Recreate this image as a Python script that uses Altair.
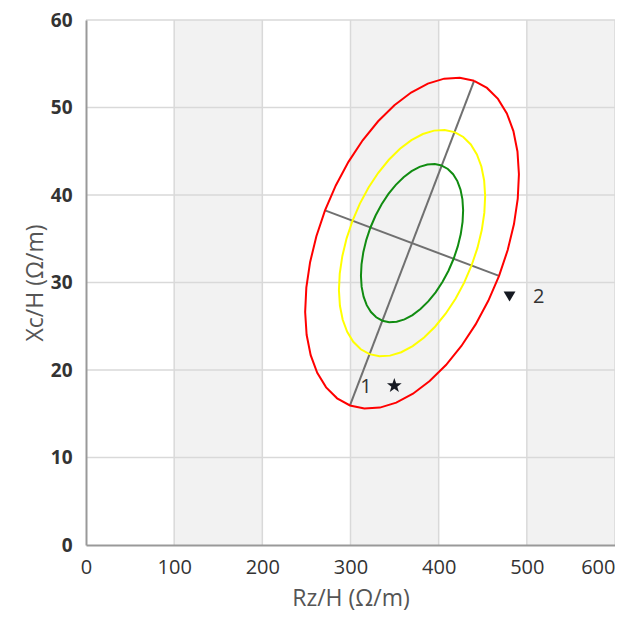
import altair as alt
import numpy as np
import pandas as pd

# ---- axis / grid values ----
x_ticks = [0, 100, 200, 300, 400, 500, 600]
y_ticks = [0, 10, 20, 30, 40, 50, 60]
band_start = [100, 300, 500]
band_end = [200, 400, 600]

# ---- ellipse parameters (data units) ----
ellipse_center = [369.8, 34.5]
major_half = [70.4, 18.55]
minor_half = [98.7, -3.74]
ellipse_names = ["95%", "75%", "50%"]
ellipse_scale = [1.0, 0.684, 0.478]
ellipse_colors = ["#ff0000", "#ffff00", "#118c11"]

# ---- markers and labels ----
marker_x = [349.7, 480.4]
marker_y = [18.2, 28.4]
marker_names = ["star", "triangle"]
label_text = ["1", "2"]
label_x = [317.5, 513.5]
label_y = [18.1, 28.3]

STAR = ("M0,-1 L0.235,-0.324 L0.951,-0.309 L0.380,0.124 L0.588,0.809 "
        "L0,0.4 L-0.588,0.809 L-0.380,0.124 L-0.951,-0.309 L-0.235,-0.324 Z")

FONT = "Open Sans"

# build ellipse outlines
n_seg = 40
rows = []
for name, s in zip(ellipse_names, ellipse_scale):
    for i in range(n_seg + 1):
        t = 2 * np.pi * i / n_seg
        px = ellipse_center[0] + s * (major_half[0] * np.cos(t) + minor_half[0] * np.sin(t))
        py = ellipse_center[1] + s * (major_half[1] * np.cos(t) + minor_half[1] * np.sin(t))
        rows.append({"level": name, "order": i, "x": px, "y": py})
ell_df = pd.DataFrame(rows)

axes_df = pd.DataFrame({
    "x": [ellipse_center[0] - major_half[0], ellipse_center[0] - minor_half[0]],
    "y": [ellipse_center[1] - major_half[1], ellipse_center[1] - minor_half[1]],
    "x2": [ellipse_center[0] + major_half[0], ellipse_center[0] + minor_half[0]],
    "y2": [ellipse_center[1] + major_half[1], ellipse_center[1] + minor_half[1]],
})

xs = alt.Scale(domain=[0, 600], nice=False, zero=False)
ys = alt.Scale(domain=[0, 60], nice=False, zero=False)

x_axis = alt.Axis(
    title="Rz/H (Ω/m)", values=x_ticks, grid=False, ticks=False,
    labelFont=FONT, labelFontSize=20, labelColor="#333333", labelPadding=12,
    labelAlign={"condition": {"test": "datum.value == 600", "value": "right"}, "value": "center"},
    titleFont=FONT, titleFontSize=23, titleFontWeight="normal", titleColor="#555555",
    titlePadding=10, domainColor="#999999", domainWidth=2, zindex=1,
)
y_axis = alt.Axis(
    title="Xc/H (Ω/m)", values=y_ticks, grid=False, ticks=False,
    labelFont=FONT, labelFontSize=19, labelColor="#333333", labelPadding=14,
    labelFontWeight="bold",
    titleFont=FONT, titleFontSize=23, titleFontWeight="normal", titleColor="#555555",
    titlePadding=3, domainColor="#999999", domainWidth=2, zindex=1,
)

bands = alt.Chart(pd.DataFrame({"a": band_start, "b": band_end})).mark_rect(
    color="#f2f2f2"
).encode(
    x=alt.X("a:Q", scale=xs, axis=x_axis),
    x2="b:Q",
    y=alt.value(0),
    y2=alt.value(525),
)

vgrid = alt.Chart(pd.DataFrame({"v": x_ticks[1:]})).mark_rule(
    color="#d9d9d9", strokeWidth=1.5
).encode(x=alt.X("v:Q", scale=xs))

hgrid = alt.Chart(pd.DataFrame({"v": y_ticks[1:]})).mark_rule(
    color="#d9d9d9", strokeWidth=1.5
).encode(y=alt.Y("v:Q", scale=ys, axis=y_axis))

lines = alt.Chart(axes_df).mark_rule(color="#707070", strokeWidth=2).encode(
    x=alt.X("x:Q", scale=xs), y=alt.Y("y:Q", scale=ys), x2="x2:Q", y2="y2:Q"
)

ellipses = alt.Chart(ell_df).mark_line(strokeWidth=2, interpolate="linear").encode(
    x=alt.X("x:Q", scale=xs),
    y=alt.Y("y:Q", scale=ys),
    order="order:Q",
    detail="level:N",
    color=alt.Color("level:N", scale=alt.Scale(domain=ellipse_names, range=ellipse_colors), legend=None),
)

mk_df = pd.DataFrame({"x": marker_x, "y": marker_y, "m": marker_names})
markers = alt.Chart(mk_df).mark_point(filled=True, opacity=1, color="#161a22").encode(
    x=alt.X("x:Q", scale=xs),
    y=alt.Y("y:Q", scale=ys),
    shape=alt.Shape("m:N", scale=alt.Scale(domain=marker_names, range=[STAR, "triangle-down"]), legend=None),
    size=alt.Size("m:N", scale=alt.Scale(domain=marker_names, range=[240, 140]), legend=None),
)

labels = alt.Chart(pd.DataFrame({"x": label_x, "y": label_y, "t": label_text})).mark_text(
    font=FONT, fontSize=20, color="#333333", align="center", baseline="middle"
).encode(x=alt.X("x:Q", scale=xs), y=alt.Y("y:Q", scale=ys), text="t:N")

chart = alt.layer(bands, vgrid, hgrid, lines, ellipses, markers, labels).properties(
    width=529, height=525,
    autosize=alt.AutoSizeParams(type="none"),
    padding={"left": 78, "top": 12, "right": 0, "bottom": 68},
).configure_view(stroke=None).resolve_scale(shape="independent", size="independent")

chart.save("out.html", embed_options={"renderer": "svg", "actions": False})
